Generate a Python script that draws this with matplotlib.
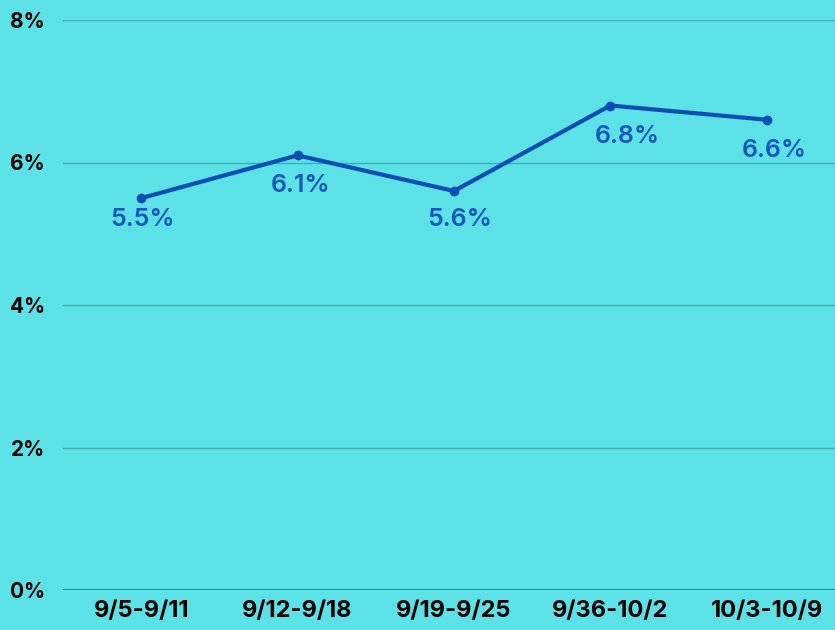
import matplotlib
matplotlib.use('Agg')
from matplotlib import pyplot as plt

weeks = ['9/5-9/11', '9/12-9/18', '9/19-9/25', '9/36-10/2', '10/3-10/9']
rates = [5.5, 6.1, 5.6, 6.8, 6.6]
yticks = [0, 2, 4, 6, 8]

# label placement relative to the point, in pixels (right, down)
label_dx = [1, 3, 6, 17, 8]
label_dy = [21, 30, 28, 31, 31]

bg = '#5CE1E6'
line_col = '#0A4DB4'
label_col = '#1458BE'

plt.rcParams['font.family'] = ['Inter', 'DejaVu Sans']

fig = plt.figure(figsize=(8.35, 6.3), dpi=100, facecolor=bg)
ax = fig.add_axes([63 / 835, 40 / 630, 782 / 835, 570 / 630], facecolor=bg)

x = list(range(len(weeks)))
ax.plot(x, rates, color=line_col, lw=3, marker='o', ms=6, zorder=3)
for i, v in enumerate(rates):
    ax.annotate(f'{v}%', (i, v), xytext=(label_dx[i] * 0.72, -label_dy[i] * 0.72),
                textcoords='offset points', ha='center', va='center',
                fontsize=18, fontweight='semibold', color=label_col)

ax.set_xlim(-0.5, 4.5)
ax.set_ylim(0, 8)
ax.set_yticks(yticks)
ax.set_yticklabels([f'{t}%' for t in yticks], fontsize=15, fontweight='bold')
ax.set_xticks(x)
ax.set_xticklabels(weeks, fontsize=17, fontweight='bold')
ax.tick_params(length=0)
ax.tick_params(axis='x', pad=7)
ax.tick_params(axis='y', pad=13)

ax.grid(axis='y', color='#3FAEB3', lw=1)
for s in ax.spines.values():
    s.set_visible(False)
ax.axhline(0, color='#2B7275', lw=1.2)

fig.savefig('out.png', dpi=100, facecolor=bg)
